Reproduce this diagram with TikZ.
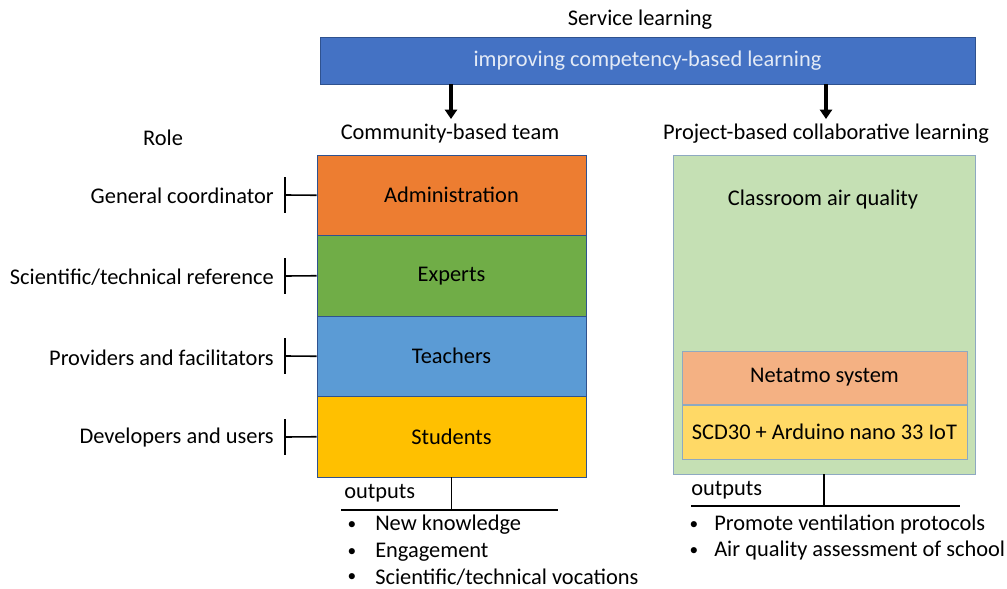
\documentclass[tikz,border=0pt]{standalone}
\usepackage{fontspec}
\setmainfont{Carlito}
\usetikzlibrary{shapes,arrows.meta}

\definecolor{barblue}{HTML}{4472C4}
\definecolor{edgeblue}{HTML}{2F528F}
\definecolor{adminorange}{HTML}{ED7D31}
\definecolor{expertgreen}{HTML}{70AD47}
\definecolor{teacherblue}{HTML}{5B9BD5}
\definecolor{studentgold}{HTML}{FFC000}
\definecolor{projgreen}{HTML}{C5E0B4}
\definecolor{projedge}{HTML}{8EA9C1}
\definecolor{netpeach}{HTML}{F4B183}
\definecolor{scdyellow}{HTML}{FFD966}

\tikzset{
  layer/.style={shape=rectangle,draw=edgeblue,line width=0.6pt,inner sep=0pt,minimum width=201.75pt,minimum height=60.375pt},
  device/.style={shape=rectangle,draw=projedge,line width=0.6pt,inner sep=0pt,minimum width=213.75pt},
  role/.style={anchor=east,inner sep=0pt},
  plain/.style={inner sep=0pt},
  dot/.style={inner sep=0pt,font=\fontsize{13}{15}\selectfont},
  tick/.style={line width=1.2pt},
  bar/.style={line width=2pt},
  outline/.style={line width=1.5pt},
  down/.style={line width=2.4pt,-{Triangle[length=7pt,width=9pt]}},
}

\begin{document}
\begin{tikzpicture}[x=0.75pt,y=-0.75pt,font=\fontsize{16.8}{19}\selectfont]
\useasboundingbox (0,0) rectangle (1007,589);

\node[plain] (service) at (640,20) {Service learning};
\node[shape=rectangle,draw=edgeblue,fill=barblue,line width=0.6pt,inner sep=0pt,minimum width=491.25pt,minimum height=35.25pt,text=white!85!barblue] (improve) at (647.5,60.5) {improving competency-based learning};

\node[plain] (team) at (450,134) {Community-based team};
\node[plain] (project) at (826,134) {Project-based collaborative learning};
\node[plain] (role) at (163,138) {Role};

\node[layer,fill=adminorange] (admin) at (451.5,195.25) {Administration};
\node[layer,fill=expertgreen] (experts) at (451.5,275.75) {Experts};
\node[layer,fill=teacherblue] (teachers) at (451.5,356.25) {Teachers};
\node[layer,fill=studentgold] (students) at (451.5,436.75) {Students};

\node[role] (r1) at (274,196) {General coordinator};
\node[role] (r2) at (274,277) {Scientific/technical reference};
\node[role] (r3) at (274,358) {Providers and facilitators};
\node[role] (r4) at (274,438) {Developers and users};

\coordinate (t1) at (285,195);
\coordinate (t2) at (285,276);
\coordinate (t3) at (285,356);
\coordinate (t4) at (285,437);

\node[shape=rectangle,draw=projedge,fill=projgreen,line width=0.6pt,inner sep=0pt,minimum width=226.5pt,minimum height=239.25pt] (air) at (824,314.5) {};
\node[plain] (airlabel) at (823,200) {Classroom air quality};
\node[device,fill=netpeach,minimum height=39.75pt] (netatmo) at (824.5,377.5) {Netatmo system};
\node[device,fill=scdyellow,minimum height=40.5pt] (scd) at (824.5,432) {SCD30 + Arduino nano 33 IoT};

\coordinate (a1) at (451,84);
\coordinate (a2) at (451,119);
\coordinate (b1) at (826,84);
\coordinate (b2) at (826,119);

\draw[down] (a1) -- (a2);
\draw[down] (b1) -- (b2);

\draw[tick] (admin.west) -- (t1);
\draw[tick] (experts.west) -- (t2);
\draw[tick] (teachers.west) -- (t3);
\draw[tick] (students.west) -- (t4);
\draw[bar] (t1) ++(0,-18) -- ++(0,36);
\draw[bar] (t2) ++(0,-18) -- ++(0,36);
\draw[bar] (t3) ++(0,-18) -- ++(0,36);
\draw[bar] (t4) ++(0,-18) -- ++(0,36);

% outputs of the team
\coordinate (o1) at (451.5,510);
\coordinate (o1l) at (341,510);
\coordinate (o1r) at (558,510);
\draw[tick] (students.south) -- (o1);
\draw[outline] (o1l) -- (o1r);
\node[plain,anchor=west] (out1) at (344,493) {outputs};
\node[dot] (d1) at (352,526) {\textbullet};
\node[plain,anchor=west] (k1) at (375,525) {New knowledge};
\node[dot] (d2) at (352,553) {\textbullet};
\node[plain,anchor=west] (k2) at (375,552) {Engagement};
\node[dot] (d3) at (352,578) {\textbullet};
\node[plain,anchor=west] (k3) at (375,577) {Scientific/technical vocations};

% outputs of the project
\coordinate (o2) at (824,506);
\coordinate (o2l) at (691,506);
\coordinate (o2r) at (960,506);
\draw[tick] (air.south) -- (o2);
\draw[outline] (o2l) -- (o2r);
\node[plain,anchor=west] (out2) at (691,490) {outputs};
\node[dot] (e1) at (694,526) {\textbullet};
\node[plain,anchor=west] (p1) at (714,525) {Promote ventilation protocols};
\node[dot] (e2) at (694,552) {\textbullet};
\node[plain,anchor=west] (p2) at (714,551) {Air quality assessment of school};
\end{tikzpicture}
\end{document}
